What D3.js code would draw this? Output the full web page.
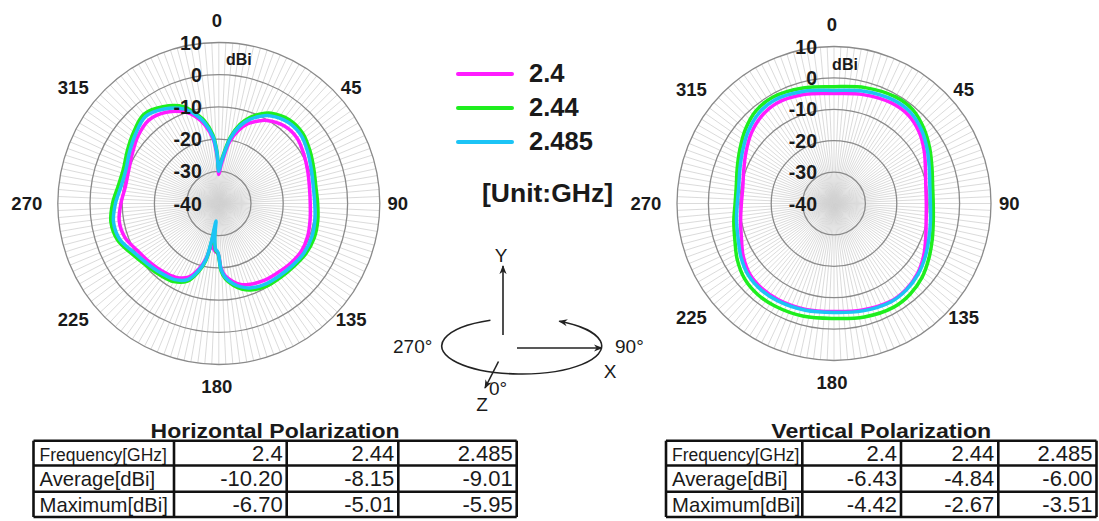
<!DOCTYPE html>
<html>
<head>
<meta charset="utf-8">
<title>Radiation pattern</title>
<script src="https://cdn.jsdelivr.net/npm/d3@7"></script>
<style>
  body { margin: 0; background: #fff; }
  text { font-family: "Liberation Sans", Arial, sans-serif; fill: #1a1a1a; }
</style>
</head>
<body>
<svg width="1099" height="521"></svg>
<script>
// ---- data ----
const freqs = ['2.4', '2.44', '2.485'];
const colors = ['#ff1cff', '#1eee1e', '#1cc4f6'];
const angleTicks = [0, 45, 90, 135, 180, 225, 270, 315];
const ringTicks = [10, 0, -10, -20, -30, -40];

// horizontal polarization, dBi
const hAngles = [0, 3, 6, 10, 15, 20, 25, 30, 40, 50, 60, 70, 80, 90, 100, 110, 120, 130, 140, 150,
  160, 165, 170, 175, 178, 181, 184, 187, 189, 191, 193, 197, 202, 210, 220, 230, 240, 250, 260,
  270, 280, 290, 300, 310, 320, 330, 340, 345, 350, 355, 358];
const h24 = [-31, -28.5, -25.5, -20.5, -16.5, -13.6, -11.8, -10.2, -8.5, -8.3, -9.5, -10.6, -11.4, -11.6,
  -11.2, -10.6, -10.4, -11, -11.8, -12.3, -13.2, -14, -15.5, -17.5, -20, -24.5, -25, -26, -27, -25.5,
  -22.5, -18.7, -15.4, -13.5, -12.6, -11.8, -10.8, -9, -8.6, -9.6, -10.5, -10.2, -9, -7.3, -6.2, -7.3,
  -9.8, -12, -15.3, -20, -25.5];
const h244 = [-29.5, -27, -24, -19, -14.5, -11.5, -9.3, -7.6, -6, -6, -7.3, -8.6, -9.4, -9.3,
  -8.8, -8.5, -8.8, -9.6, -10.1, -10.4, -11.4, -12.5, -14.2, -16.5, -19, -24.5, -25.5, -29, -32.5, -27,
  -21.5, -17.5, -14, -12, -11.2, -10.3, -8.8, -6.6, -6, -7, -8.3, -8.5, -7.2, -5.5, -3.8, -5.3,
  -8, -10.8, -13.8, -18.5, -24];
const h2485 = [-30, -27.5, -24.5, -19.5, -15.2, -12.3, -10.2, -8.5, -6.9, -6.8, -8.1, -9.4, -10.2, -10.2,
  -9.7, -9.3, -9.4, -10.1, -10.7, -11.1, -12.1, -13.2, -14.8, -17, -19.5, -24.8, -25.8, -30, -34.5, -28,
  -22, -18, -14.6, -12.7, -11.9, -11, -9.6, -7.3, -6.8, -7.9, -9.2, -9.3, -8, -6.3, -4.7, -6.1,
  -8.8, -11.3, -14.5, -19.2, -24.5];

// vertical polarization, dBi
const vAngles = [0, 15, 30, 40, 50, 60, 70, 80, 90, 100, 110, 120, 130, 140, 150, 165, 180, 195,
  210, 220, 230, 240, 250, 260, 270, 280, 290, 300, 310, 320, 330, 345];
const v24 = [-5, -4.1, -3.1, -3.2, -4.6, -6.8, -9, -10.3, -10.6, -10.2, -8.9, -7, -5.3, -4.3, -4,
  -4.9, -5.6, -5.1, -4.6, -4.5, -5, -6.6, -8.6, -9.8, -10.5, -10.5, -9.4, -7.6, -5.5, -3.9, -3.2, -4];
const v244 = [-2.8, -1.8, -0.8, -1, -2.7, -4.8, -6.8, -8.1, -8.4, -7.9, -6.7, -5.1, -3.4, -2.3, -1.9,
  -2.6, -3.4, -2.8, -2.3, -2.2, -2.8, -4.4, -6.4, -7.6, -8.5, -8.4, -7.2, -5.4, -3.2, -1.4, -0.9, -1.9];
const v2485 = [-4, -3, -2, -2.1, -3.6, -5.7, -7.7, -9, -9.3, -8.8, -7.8, -6.4, -5, -4.1, -3.8,
  -4.6, -5.3, -4.8, -4.2, -4, -4.4, -5.8, -7.5, -8.5, -9.2, -9.2, -8.1, -6.4, -4.3, -2.6, -2, -3];

// tables
const rowLabels = ['Frequency[GHz]', 'Average[dBi]', 'Maximum[dBi]'];
const hAverage = ['-10.20', '-8.15', '-9.01'];
const hMaximum = ['-6.70', '-5.01', '-5.95'];
const vAverage = ['-6.43', '-4.84', '-6.00'];
const vMaximum = ['-4.42', '-2.67', '-3.51'];

const svg = d3.select('svg');

// arrow marker for the axis sketch
svg.append('defs').append('marker')
  .attr('id', 'arr')
  .attr('viewBox', '0 0 10 10')
  .attr('refX', 9).attr('refY', 5)
  .attr('markerWidth', 9).attr('markerHeight', 9)
  .attr('markerUnits', 'userSpaceOnUse')
  .attr('orient', 'auto')
  .append('path').attr('d', 'M0,1 L10,5 L0,9 L3,5 z').attr('fill', '#222');

// angle labels sit on a squashed ring, a bit further out on the left
const labelPos = (d, k) => {
  const t = d * Math.PI / 180;
  const sx = Math.sin(t), cy = Math.cos(t);
  const diag = Math.abs(sx) > 0.5 && Math.abs(cy) > 0.5;
  const rx = (sx < -0.1 ? (diag ? 203 : 190) : (diag ? 190 : 181)) * k;
  const ry = (diag ? 164 : 183) * k;
  return [rx * sx - 2, -ry * cy];
};

const drawPolar = (cx, cy, R, angles, series, k, dbi) => {
  const g = svg.append('g').attr('transform', `translate(${cx},${cy})`);
  const r = d3.scaleLinear().domain([-40, 10]).range([0, R]);
  const a = d3.scaleLinear().domain([0, 360]).range([0, 2 * Math.PI]);

  // spokes
  g.selectAll('.spoke').data(d3.range(0, 360, 2.5)).join('line')
    .attr('x1', 0).attr('y1', 0)
    .attr('x2', d => R * Math.sin(a(d)))
    .attr('y2', d => -R * Math.cos(a(d)))
    .attr('stroke', '#d2d2d2')
    .attr('stroke-width', 0.8);

  // rings
  g.selectAll('.ring').data(ringTicks.filter(d => d > -40)).join('circle')
    .attr('r', d => r(d))
    .attr('fill', 'none')
    .attr('stroke', '#8a8a8a')
    .attr('stroke-width', 1.3);

  const line = d3.lineRadial()
    .angle((d, i) => a(angles[i]))
    .radius(d => r(d))
    .curve(d3.curveCatmullRomClosed.alpha(0.5));

  series.forEach((s, i) => {
    g.append('path').datum(s)
      .attr('d', line)
      .attr('fill', 'none')
      .attr('stroke', colors[i])
      .attr('stroke-width', 3.5)
      .attr('stroke-linejoin', 'round');
  });

  // dB labels
  g.selectAll('.rl').data(ringTicks).join('text')
    .attr('x', -17)
    .attr('y', d => -r(d))
    .attr('text-anchor', 'end')
    .attr('dominant-baseline', 'central')
    .attr('font-size', 19.5)
    .attr('font-weight', 'bold')
    .text(d => d);

  g.append('text')
    .attr('x', dbi[0]).attr('y', dbi[1])
    .attr('text-anchor', 'middle')
    .attr('dominant-baseline', 'central')
    .attr('font-size', 16)
    .attr('font-weight', 'bold')
    .text('dBi');

  // angle labels
  g.selectAll('.al').data(angleTicks).join('text')
    .attr('x', d => labelPos(d, k)[0])
    .attr('y', d => labelPos(d, k)[1])
    .attr('text-anchor', 'middle')
    .attr('dominant-baseline', 'central')
    .attr('font-size', 18.5)
    .attr('font-weight', 'bold')
    .text(d => d);
};

drawPolar(218.8, 203.5, 161, hAngles, [h24, h244, h2485], 1, [20, -144]);
drawPolar(834, 203.5, 157, vAngles, [v24, v244, v2485], 0.98, [11, -139]);

// legend
const legend = svg.append('g');
const ly = d3.scalePoint().domain(freqs).range([74, 142]);
freqs.forEach((f, i) => {
  legend.append('line')
    .attr('x1', 458).attr('x2', 512)
    .attr('y1', ly(f)).attr('y2', ly(f))
    .attr('stroke', colors[i]).attr('stroke-width', 4).attr('stroke-linecap', 'round');
  legend.append('text')
    .attr('x', 529).attr('y', ly(f) + 8)
    .attr('font-size', 25.5).attr('font-weight', 'bold')
    .text(f);
});
legend.append('text')
  .attr('x', 482).attr('y', 202)
  .attr('font-size', 26.5).attr('font-weight', 'bold')
  .text('[Unit:GHz]');

// axis sketch
const ax = svg.append('g').attr('stroke', '#222').attr('stroke-width', 1.6).attr('fill', 'none');
ax.append('line').attr('x1', 503).attr('y1', 335).attr('x2', 503).attr('y2', 266).attr('marker-end', 'url(#arr)');
ax.append('line').attr('x1', 517).attr('y1', 348).attr('x2', 602).attr('y2', 348).attr('marker-end', 'url(#arr)');
ax.append('line').attr('x1', 498.5).attr('y1', 361.5).attr('x2', 485).attr('y2', 388).attr('marker-end', 'url(#arr)');
{
  const ecx = 521.7, ecy = 346, erx = 80, ery = 28;
  const pt = t => [ecx + erx * Math.cos(t * Math.PI / 180), ecy + ery * Math.sin(t * Math.PI / 180)];
  const s = pt(247), e = pt(-62);
  ax.append('path')
    .attr('d', `M${s[0]},${s[1]} A${erx},${ery} 0 1 0 ${e[0]},${e[1]}`)
    .attr('marker-end', 'url(#arr)');
}
const axT = svg.append('g').attr('font-size', 19);
axT.append('text').attr('x', 501).attr('y', 262).attr('text-anchor', 'middle').attr('fill', '#333').text('Y');
axT.append('text').attr('x', 610).attr('y', 378).attr('text-anchor', 'middle').attr('fill', '#333').text('X');
axT.append('text').attr('x', 482).attr('y', 411).attr('text-anchor', 'middle').attr('fill', '#333').text('Z');
axT.append('text').attr('x', 615).attr('y', 353).attr('fill', '#333').text('90°');
axT.append('text').attr('x', 393).attr('y', 353).attr('fill', '#333').text('270°');
axT.append('text').attr('x', 489).attr('y', 395).attr('fill', '#333').text('0°');

// tables
const drawTable = (xs, ys, title, titleW, avg, max) => {
  const g = svg.append('g');
  const rows = [[rowLabels[0], ...freqs], [rowLabels[1], ...avg], [rowLabels[2], ...max]];
  g.append('text')
    .attr('x', (xs[0] + xs[xs.length - 1]) / 2)
    .attr('y', ys[0] - 3)
    .attr('text-anchor', 'middle')
    .attr('font-size', 20).attr('font-weight', 'bold')
    .attr('textLength', titleW).attr('lengthAdjust', 'spacingAndGlyphs')
    .text(title);
  rows.forEach((row, ri) => {
    row.forEach((cell, ci) => {
      const base = ys[ri] + (ys[ri + 1] - ys[ri]) / 2 + 7.5;
      g.append('text')
        .attr('x', ci === 0 ? xs[0] + 6 : xs[ci + 1] - 4)
        .attr('y', base)
        .attr('text-anchor', ci === 0 ? 'start' : 'end')
        .attr('font-size', ci === 0 ? (ri === 0 ? 17.5 : 20.3) : 22)
        .text(cell);
    });
  });
  g.selectAll('.hl').data(ys).join('line')
    .attr('x1', xs[0]).attr('x2', xs[xs.length - 1])
    .attr('y1', d => d).attr('y2', d => d)
    .attr('stroke', '#111').attr('stroke-width', 2.6);
  g.selectAll('.vl').data(xs).join('line')
    .attr('x1', d => d).attr('x2', d => d)
    .attr('y1', ys[0]).attr('y2', ys[ys.length - 1])
    .attr('stroke', '#111').attr('stroke-width', 2.6);
};

drawTable([33.5, 174, 286.7, 398.3, 516.7], [440.7, 465.5, 491.7, 517], 'Horizontal Polarization', 249, hAverage, hMaximum);
drawTable([666, 802.3, 901, 998.3, 1096.5], [440.7, 465.5, 491.7, 517], 'Vertical Polarization', 220, vAverage, vMaximum);
</script>
</body>
</html>
